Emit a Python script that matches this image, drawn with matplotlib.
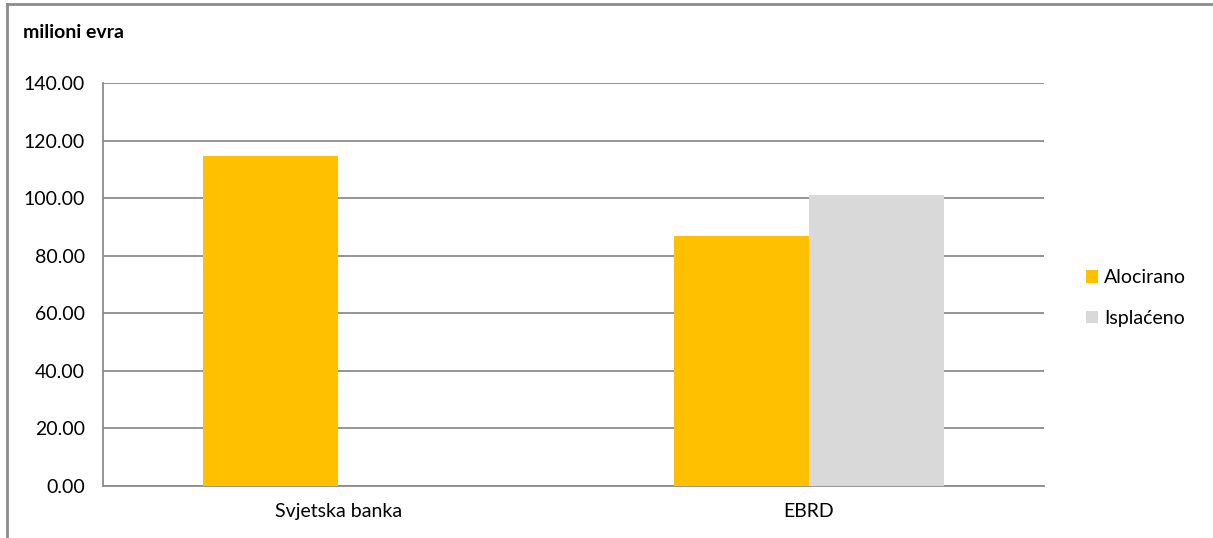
import numpy as np
import matplotlib.pyplot as plt
from matplotlib.lines import Line2D
from matplotlib.patches import Patch

categories = ["Svjetska banka", "EBRD"]
series_names = ["Alocirano", "Isplaćeno"]
alocirano = [114.7, 86.8]
isplaceno = [0.0, 101.1]
y_ticks = [0, 20, 40, 60, 80, 100, 120, 140]

colors = ["#FFC000", "#D9D9D9"]
grid_color = "#8C8C8C"

plt.rcParams['font.family'] = ['Lato', 'DejaVu Sans']

W, H = 1213, 538
fig = plt.figure(figsize=(W / 100, H / 100), dpi=100)
ax = fig.add_axes([103 / W, 1 - 486 / H, 941 / W, 403 / H])

x = np.arange(len(categories))
bw = 0.287
ax.bar(x - bw / 2, alocirano, bw, color=colors[0], zorder=3)
ax.bar(x + bw / 2, isplaceno, bw, color=colors[1], zorder=3)

ax.set_xlim(-0.5, len(categories) - 0.5)
ax.set_ylim(0, 140)
ax.set_yticks(y_ticks)
ax.set_yticklabels([f"{v:.2f}" for v in y_ticks], fontsize=14)
ax.set_xticks(x)
ax.set_xticklabels(categories, fontsize=14)
ax.tick_params(axis='y', length=0, pad=13)
ax.tick_params(axis='x', length=0, pad=12)
ax.grid(axis='y', color=grid_color, linewidth=1.3, zorder=0)

for side in ['top', 'right']:
    ax.spines[side].set_visible(False)
for side in ['left', 'bottom']:
    ax.spines[side].set_color(grid_color)
    ax.spines[side].set_linewidth(1.3)

handles = [Patch(facecolor=c, edgecolor='none') for c in colors]
fig.legend(handles, series_names, loc='center left',
           bbox_to_anchor=(1086 / W, 1 - 298 / H), frameon=False,
           fontsize=14, handlelength=0.62, handleheight=0.62,
           handletextpad=0.31, labelspacing=1.2,
           borderpad=0, borderaxespad=0)

fig.text(23 / W, 1 - 32 / H, "milioni evra", fontsize=14, fontweight='bold',
         va='center', ha='left')

# outer chart border (top and left edges visible)
fig.add_artist(Line2D([7 / W, 1.0], [1 - 4 / H, 1 - 4 / H], color=grid_color,
                      linewidth=2, transform=fig.transFigure))
fig.add_artist(Line2D([7 / W, 7 / W], [1 - 4 / H, 0], color=grid_color,
                      linewidth=2, transform=fig.transFigure))

fig.savefig("out.png", dpi=100)
